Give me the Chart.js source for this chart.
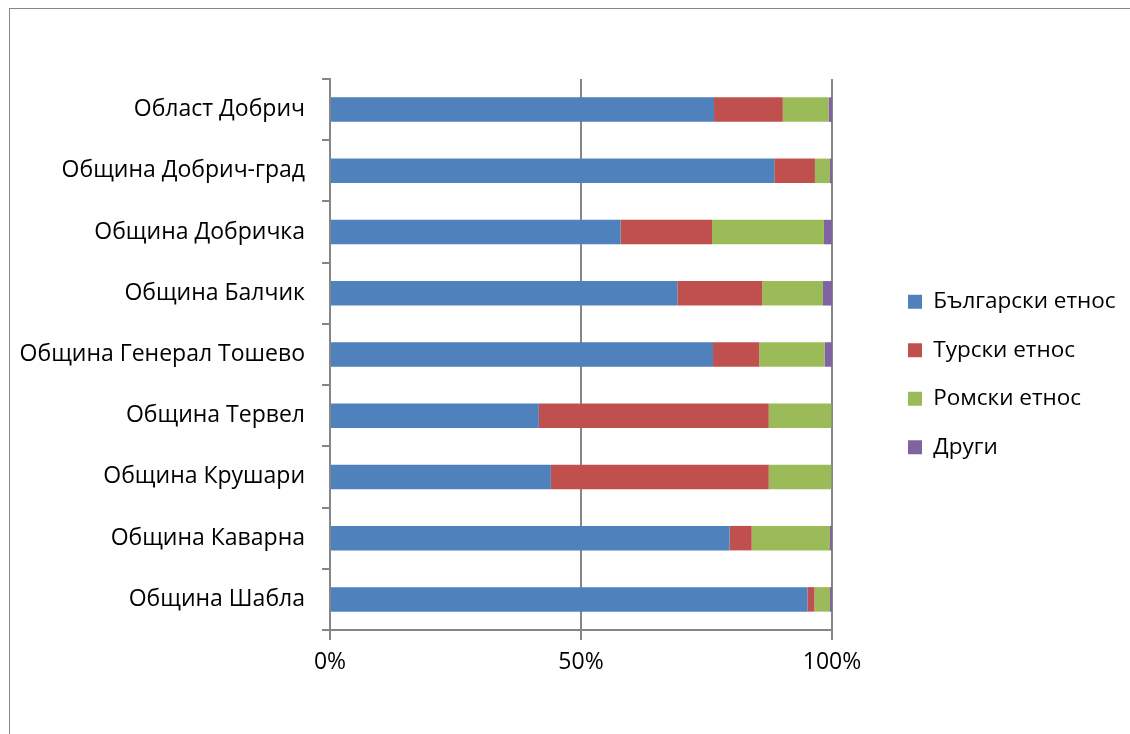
<!DOCTYPE html>
<html>
<head>
<meta charset="utf-8">
<script src="https://cdn.jsdelivr.net/npm/chart.js@4.4.0/dist/chart.umd.min.js"></script>
<style>
  html, body { margin: 0; padding: 0; background: #fff; }
  #frame {
    position: absolute; left: 9px; top: 8px; width: 1140px; height: 740px;
    border: 1px solid #868686; box-sizing: border-box;
  }
  #wrap { position: absolute; left: 0; top: 0; width: 1130px; height: 734px; }
</style>
</head>
<body>
<div id="frame"></div>
<div id="wrap"><canvas id="chart"></canvas></div>
<script>
// Categories (top to bottom)
const municipalities = [
    "Област Добрич",
    "Община Добрич-град",
    "Община Добричка",
    "Община Балчик",
    "Община Генерал Тошево",
    "Община Тервел",
    "Община Крушари",
    "Община Каварна",
    "Община Шабла"
];

// Shares, %
const bulgarian = [76.5, 88.5, 57.9, 69.2, 76.3, 41.6, 44.0, 79.6, 95.1];
const turkish   = [13.7,  8.1, 18.2, 16.9,  9.2, 45.8, 43.4,  4.4,  1.4];
const roma      = [ 9.1,  3.0, 22.3, 12.1, 13.0, 12.5, 12.5, 15.6,  3.1];
const others    = [ 0.7,  0.4,  1.6,  1.8,  1.5,  0.1,  0.1,  0.4,  0.4];

const tickValues = [0, 50, 100];

const axisGray = "#868686";
const font = { family: "'Open Sans', 'Noto Sans', sans-serif", size: 23 };
const legendFont = { family: "'Open Sans', 'Noto Sans', sans-serif", size: 22.5 };

// plot area edges in the page
const plotLeft = 330, plotRight = 832, plotTop = 79, plotBottom = 630;

// move the legend away from the plot, as in the original
const legendPlace = {
    id: "legendPlace",
    beforeInit(chart) {
        const fit = chart.legend.fit;
        chart.legend.fit = function () {
            fit.call(this);
            this.width = 1130 - plotRight;
        };
    },
    afterLayout(chart) {
        const lg = chart.legend;
        lg.left += 50; lg.right += 50;
        lg.top -= 32; lg.bottom -= 32;
    }
};

const ctx = document.getElementById("chart").getContext("2d");
new Chart(ctx, {
    type: "bar",
    data: {
        labels: municipalities,
        datasets: [
            { label: "Български етнос", data: bulgarian, backgroundColor: "#4f81bd" },
            { label: "Турски етнос", data: turkish, backgroundColor: "#c0504d" },
            { label: "Ромски етнос", data: roma, backgroundColor: "#9bbb59" },
            { label: "Други", data: others, backgroundColor: "#8064a2" }
        ]
    },
    plugins: [legendPlace],
    options: {
        indexAxis: "y",
        responsive: true,
        maintainAspectRatio: false,
        animation: false,
        datasets: {
            bar: { categoryPercentage: 1, barPercentage: 0.4 }
        },
        layout: { padding: { left: 0, right: 0, top: plotTop, bottom: 0 } },
        plugins: {
            tooltip: { enabled: false },
            legend: {
                position: "right",
                align: "center",
                labels: {
                    font: legendFont,
                    color: "#000",
                    boxWidth: 14,
                    boxHeight: 14,
                    padding: 26
                }
            }
        },
        scales: {
            x: {
                stacked: true,
                min: 0,
                max: 100,
                afterBuildTicks: function (axis) {
                    axis.ticks = tickValues.map(v => ({ value: v }));
                },
                afterFit: function (axis) {
                    axis.height = 734 - plotBottom;
                },
                ticks: {
                    font: font,
                    color: "#000",
                    padding: 9,
                    maxRotation: 0,
                    callback: v => v + "%"
                },
                grid: {
                    color: axisGray,
                    lineWidth: 2,
                    tickLength: 10
                },
                border: { color: axisGray, width: 2 }
            },
            y: {
                stacked: true,
                afterFit: function (axis) {
                    axis.width = plotLeft;
                },
                ticks: { font: font, color: "#000", padding: 17 },
                grid: {
                    offset: true,
                    drawOnChartArea: false,
                    color: axisGray,
                    lineWidth: 2,
                    tickLength: 8
                },
                border: { color: axisGray, width: 2 }
            }
        }
    }
});
</script>
</body>
</html>
